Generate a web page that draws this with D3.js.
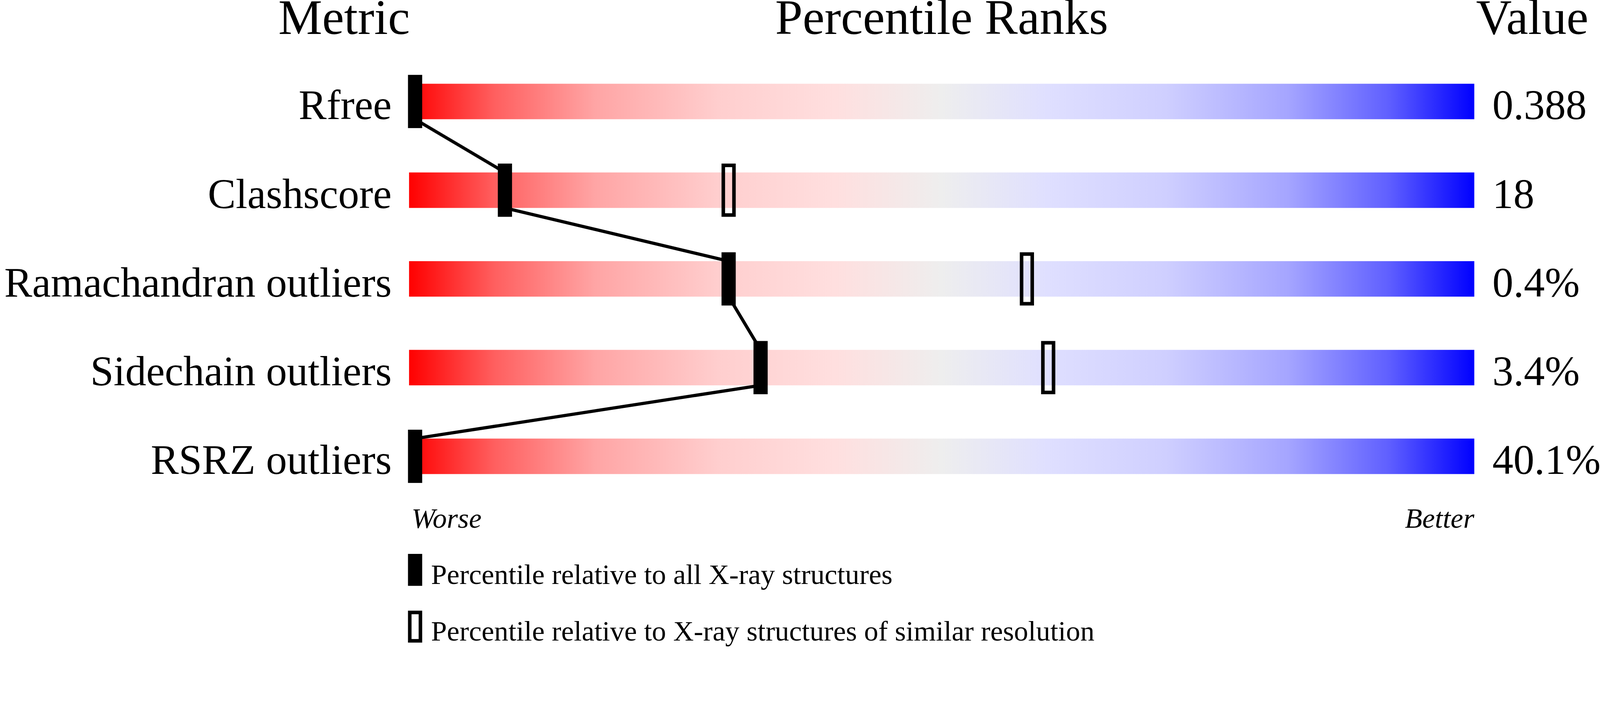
<!DOCTYPE html>
<html>
<head>
<meta charset="utf-8">
<script src="https://cdn.jsdelivr.net/npm/d3@7"></script>
<style>
  html, body { margin: 0; padding: 0; background: #fff; overflow: hidden; }
  #slider svg { display: block; }
  text { font-family: "Liberation Serif", "Times New Roman", serif; fill: #000; }
</style>
</head>
<body>
<div id="slider"></div>
<script>
// data
var metrics = ["Rfree", "Clashscore", "Ramachandran outliers", "Sidechain outliers", "RSRZ outliers"];
var metricValues = ["0.388", "18", "0.4%", "3.4%", "40.1%"];
var pctAll = [0, 9, 30, 33, 0];            // relative to all X-ray structures
var pctSimilar = [null, 30, 58, 60, null]; // relative to similar resolution
var gradStops = [
  [0, "#ff0000"], [0.08, "#ff5f5f"], [0.175, "#ffa5a5"], [0.29, "#ffcece"],
  [0.40, "#ffdfdf"], [0.5, "#eeeeee"], [0.60, "#dfdfff"], [0.71, "#cfcfff"],
  [0.825, "#a5a5ff"], [0.92, "#5f5fff"], [1, "#0000ff"]
];

var width = 4506;
var height = 1824;
var barH = 100;
var markW = 40;
var markH = 150;

// drawn in a 4506x1824 box, scaled to whatever the window is
var svg = d3.select("#slider").append("svg")
  .attr("viewBox", "0 0 " + width + " " + height)
  .attr("preserveAspectRatio", "xMinYMin meet")
  .style("width", "100vw")
  .style("height", "100vh");

// x scale: percentile
var x = d3.scaleLinear()
  .domain([0, 100])
  .range([1152, 4152]);

// y scale: row centres
var y = d3.scalePoint()
  .domain(metrics)
  .range([286, 1286]);

// keep marks at 0 from hanging off the bar
function markX(p) {
  return Math.max(x(p), x(0) + markW / 2 - 3);
}

var grad = svg.append("defs").append("linearGradient")
  .attr("id", "rank")
  .attr("x1", "0%").attr("x2", "100%")
  .attr("y1", "0%").attr("y2", "0%");
grad.selectAll("stop")
  .data(gradStops)
  .join("stop")
  .attr("offset", d => d[0])
  .attr("stop-color", d => d[1]);

// headers
svg.append("text").attr("x", 969).attr("y", 96).attr("text-anchor", "middle")
  .style("font-size", "139px").text("Metric");
svg.append("text").attr("x", (x.range()[0] + x.range()[1]) / 2).attr("y", 96).attr("text-anchor", "middle")
  .style("font-size", "139px").text("Percentile Ranks");
svg.append("text").attr("x", 4157).attr("y", 96)
  .style("font-size", "139px").text("Value");

// bars
svg.selectAll("rect.bar")
  .data(metrics)
  .join("rect")
  .attr("class", "bar")
  .attr("x", x(0))
  .attr("y", d => y(d) - barH / 2)
  .attr("width", x(100) - x(0))
  .attr("height", barH)
  .style("fill", "url(#rank)");

// metric labels
svg.selectAll("text.label")
  .data(metrics)
  .join("text")
  .attr("class", "label")
  .attr("x", 1103)
  .attr("y", d => y(d) + barH / 2)
  .attr("text-anchor", "end")
  .style("font-size", "118px")
  .text(d => d);

// values
svg.selectAll("text.value")
  .data(metricValues)
  .join("text")
  .attr("class", "value")
  .attr("x", 4203)
  .attr("y", (d, i) => y(metrics[i]) + barH / 2)
  .style("font-size", "118px")
  .text(d => d);

// line joining the black marks: bottom of one bar to top of the next
var segs = d3.pairs(metrics.map((m, i) => ({m: m, p: pctAll[i]})));
svg.selectAll("line.link")
  .data(segs)
  .join("line")
  .attr("class", "link")
  .attr("x1", d => markX(d[0].p))
  .attr("y1", d => y(d[0].m) + barH / 2)
  .attr("x2", d => markX(d[1].p))
  .attr("y2", d => y(d[1].m) - barH / 2)
  .style("stroke", "#000")
  .style("stroke-width", 9);

// hollow marks (similar resolution)
svg.selectAll("rect.similar")
  .data(metrics.map((m, i) => ({m: m, p: pctSimilar[i]})).filter(d => d.p != null))
  .join("rect")
  .attr("class", "similar")
  .attr("x", d => markX(d.p) - markW / 2 + 5)
  .attr("y", d => y(d.m) - markH / 2 + 5)
  .attr("width", markW - 10)
  .attr("height", markH - 10)
  .style("fill", "none")
  .style("stroke", "#000")
  .style("stroke-width", 10);

// black marks (all X-ray structures)
svg.selectAll("rect.all")
  .data(metrics.map((m, i) => ({m: m, p: pctAll[i]})))
  .join("rect")
  .attr("class", "all")
  .attr("x", d => markX(d.p) - markW / 2)
  .attr("y", d => y(d.m) - markH / 2)
  .attr("width", markW)
  .attr("height", markH)
  .style("fill", "#000");

// worse / better
svg.append("text").attr("x", 1159).attr("y", 1487)
  .style("font-size", "80px").style("font-style", "italic").text("Worse");
svg.append("text").attr("x", x(100)).attr("y", 1487).attr("text-anchor", "end")
  .style("font-size", "80px").style("font-style", "italic").text("Better");

// legend
svg.append("rect").attr("x", 1149).attr("y", 1561).attr("width", markW).attr("height", 90)
  .style("fill", "#000");
svg.append("text").attr("x", 1214).attr("y", 1646).style("font-size", "80px")
  .text("Percentile relative to all X-ray structures");
svg.append("rect").attr("x", 1154).attr("y", 1726).attr("width", markW - 10).attr("height", 80)
  .style("fill", "none").style("stroke", "#000").style("stroke-width", 10);
svg.append("text").attr("x", 1214).attr("y", 1805).style("font-size", "80px")
  .text("Percentile relative to X-ray structures of similar resolution");
</script>
</body>
</html>
